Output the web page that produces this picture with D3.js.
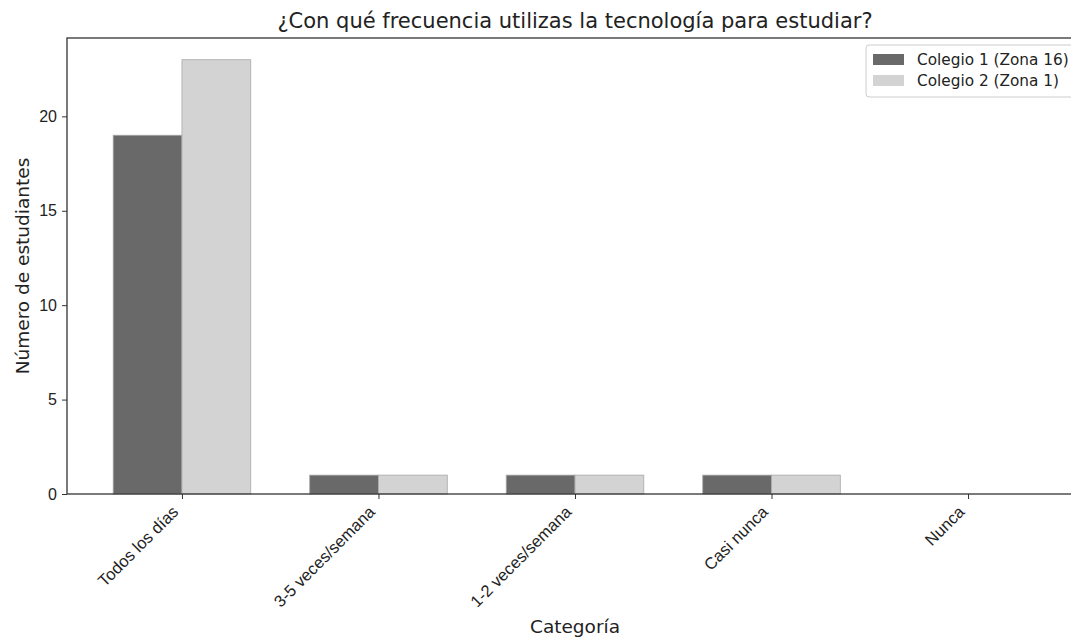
<!DOCTYPE html>
<html>
<head>
<meta charset="utf-8">
<script src="https://cdn.jsdelivr.net/npm/d3@7"></script>
<style>
  body { margin: 0; background: #fff; }
  svg { font-family: "DejaVu Sans", sans-serif; }
</style>
</head>
<body>
<svg id="chart" width="1071" height="639"></svg>
<script>
var categories = ["Todos los días", "3-5 veces/semana", "1-2 veces/semana", "Casi nunca", "Nunca"];
var colegio1 = [19, 1, 1, 1, 0];
var colegio2 = [23, 1, 1, 1, 0];
var seriesNames = ["Colegio 1 (Zona 16)", "Colegio 2 (Zona 1)"];
var yTicks = [0, 5, 10, 15, 20];

var svg = d3.select("#chart"),
    margin = {top: 38, left: 67, bottom: 494, right: 1083};

var series = [colegio1, colegio2];
var colors = ["#696969", "#d3d3d3"];
var barW = 0.35;

// numeric x like matplotlib: positions 0..n-1, margins 5%
var n = categories.length;
var x = d3.scaleLinear()
    .domain([-barW - 0.05 * (n - 1 + 2 * barW), n - 1 + barW + 0.05 * (n - 1 + 2 * barW)])
    .range([margin.left, margin.right]);

var y = d3.scaleLinear()
    .domain([0, 23 * 1.05])
    .range([margin.bottom, margin.top]);

// bars
series.forEach(function (vals, s) {
    svg.append("g").selectAll("rect")
        .data(vals)
        .enter().append("rect")
        .attr("x", function (d, i) { return x(i + (s - 1) * barW); })
        .attr("width", function () { return x(barW) - x(0); })
        .attr("y", function (d) { return y(d); })
        .attr("height", function (d) { return y(0) - y(d); })
        .attr("fill", colors[s])
        .attr("stroke", "#a8a8a8")
        .attr("stroke-width", 0.8);
});

// axes
var yAxis = svg.append("g")
    .attr("transform", "translate(" + margin.left + ",0)")
    .call(d3.axisLeft(y).tickValues(yTicks).tickSize(5).tickPadding(5));
var xAxis = svg.append("g")
    .attr("transform", "translate(0," + margin.bottom + ")")
    .call(d3.axisBottom(x).tickValues(d3.range(n)).tickSize(5).tickFormat(function (i) { return categories[i]; }));

[yAxis, xAxis].forEach(function (a) {
    a.select(".domain").remove();
    a.selectAll(".tick line").attr("stroke", "#333").attr("stroke-width", 1);
    a.selectAll(".tick text").attr("fill", "#222").style("font-size", "16px");
});

xAxis.selectAll(".tick text")
    .attr("x", 0).attr("y", 0).attr("dy", 0)
    .attr("text-anchor", "end")
    .style("font-size", "16.5px")
    .attr("transform", "translate(-3,19) rotate(-45)");

// spines
svg.append("rect")
    .attr("x", margin.left).attr("y", margin.top)
    .attr("width", margin.right - margin.left)
    .attr("height", margin.bottom - margin.top)
    .attr("fill", "none")
    .attr("stroke", "#333")
    .attr("stroke-width", 1.3);

// title and labels
svg.append("text")
    .attr("x", (margin.left + margin.right) / 2).attr("y", 28)
    .attr("text-anchor", "middle")
    .style("font-size", "21px").attr("fill", "#222")
    .text("¿Con qué frecuencia utilizas la tecnología para estudiar?");

svg.append("text")
    .attr("x", (margin.left + margin.right) / 2).attr("y", 633)
    .attr("text-anchor", "middle")
    .style("font-size", "18.5px").attr("fill", "#222")
    .text("Categoría");

svg.append("text")
    .attr("transform", "translate(29," + (margin.top + margin.bottom) / 2 + ") rotate(-90)")
    .attr("text-anchor", "middle")
    .style("font-size", "18.5px").attr("fill", "#222")
    .text("Número de estudiantes");

// legend
var lg = svg.append("g").attr("transform", "translate(866,45)");
lg.append("rect")
    .attr("width", 215).attr("height", 52)
    .attr("rx", 3)
    .attr("fill", "#fff").attr("fill-opacity", 0.8)
    .attr("stroke", "#ccc");
seriesNames.forEach(function (name, i) {
    lg.append("rect")
        .attr("x", 7).attr("y", 9 + i * 21)
        .attr("width", 31).attr("height", 11)
        .attr("fill", colors[i]);
    lg.append("text")
        .attr("x", 51).attr("y", 20 + i * 21)
        .style("font-size", "15.3px").attr("fill", "#222")
        .text(name);
});
</script>
</body>
</html>
